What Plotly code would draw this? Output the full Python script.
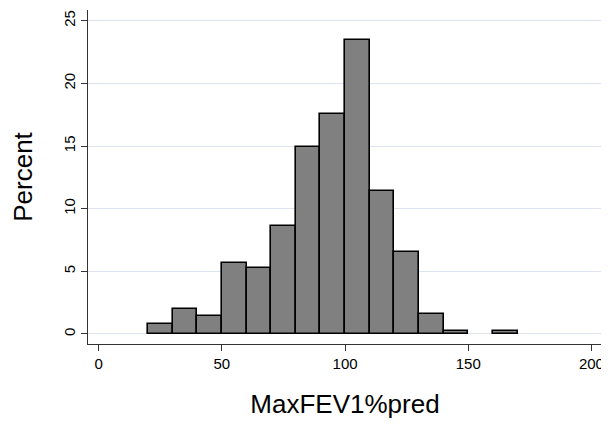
import plotly.graph_objects as go

bin_starts = [20, 30, 40, 50, 60, 70, 80, 90, 100, 110, 120, 130, 140, 150, 160]
percent = [0.8, 2.0, 1.45, 5.7, 5.3, 8.6, 14.95, 17.55, 23.5, 11.45, 6.55, 1.6, 0.2, 0.0, 0.2]
bin_width = 10
x_ticks = [0, 50, 100, 150, 200]
y_ticks = [0, 5, 10, 15, 20, 25]

# empty bins draw nothing
centers = [b + bin_width / 2 for b, p in zip(bin_starts, percent) if p > 0]
heights = [p for p in percent if p > 0]

fig = go.Figure()
fig.add_trace(go.Bar(
    x=centers, y=heights, width=[bin_width] * len(centers),
    marker=dict(color="#808080", line=dict(color="#000000", width=1.6)),
    showlegend=False,
))

fig.update_layout(
    width=601, height=420,
    margin=dict(l=80, r=7, t=2, b=84),
    paper_bgcolor="white", plot_bgcolor="white",
    font=dict(family="Liberation Sans, Arial, sans-serif", color="black"),
    bargap=0,
)
fig.update_xaxes(
    range=[-4.34, 204.3], tickvals=x_ticks, ticktext=[str(t) for t in x_ticks],
    showgrid=False, zeroline=False,
    showline=True, linecolor="#333333", linewidth=1,
    ticks="outside", ticklen=6, tickcolor="#333333", tickfont=dict(size=15),
    title=dict(text="MaxFEV1%pred", font=dict(size=26), standoff=23),
)
fig.update_yaxes(
    range=[-0.8, 25.86], tickvals=y_ticks, ticktext=[str(t) for t in y_ticks],
    tickangle=-90,
    showgrid=True, gridcolor="#dde4f0", gridwidth=1, zeroline=False,
    showline=True, linecolor="#333333", linewidth=1,
    ticks="outside", ticklen=6, tickcolor="#333333", tickfont=dict(size=15),
    title=dict(text="Percent", font=dict(size=26), standoff=21),
)

fig.write_html("out.html")
